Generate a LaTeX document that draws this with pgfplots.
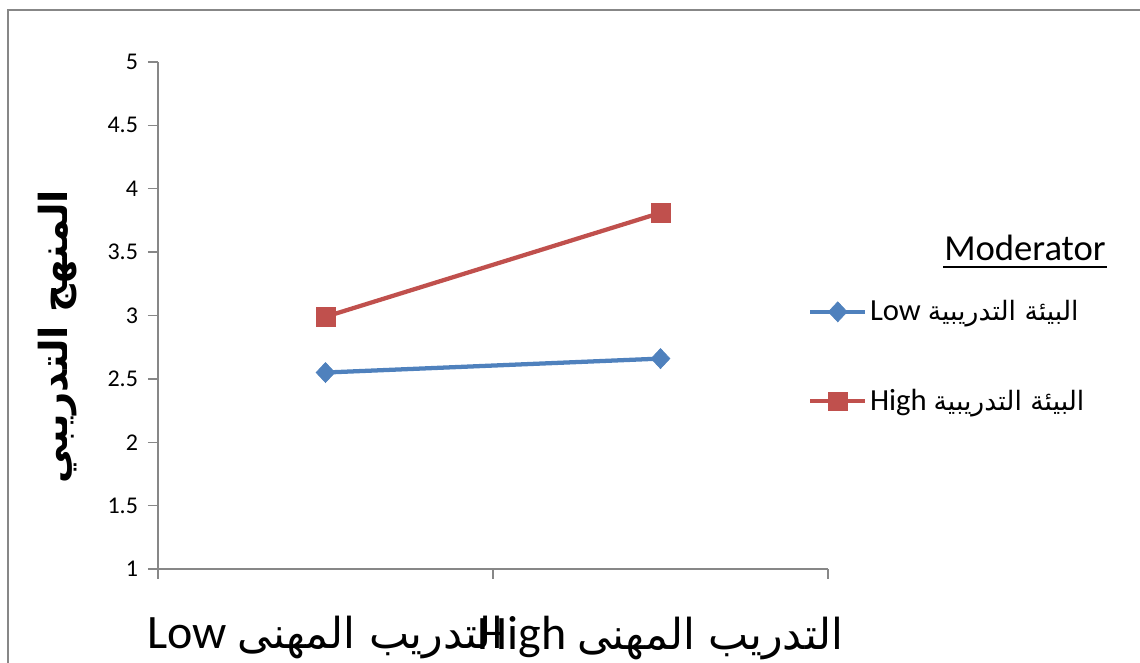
\documentclass[border=0pt]{standalone}
\usepackage{fontspec}
\setmainfont{Carlito}
\newfontfamily\arabicfont[Script=Arabic]{DejaVu Sans}
\usepackage{pgfplots}
\pgfplotsset{compat=1.18}
\TeXXeTstate=1

\definecolor{lowblue}{HTML}{4F81BD}
\definecolor{highred}{HTML}{C0504D}
\definecolor{axisgray}{HTML}{878787}

\newcommand{\catlabel}[1]{#1 {\arabicfont\fontsize{32}{32}\selectfont\beginR التدريب المهنى\endR}}
\newcommand{\modlabel}[1]{#1 {\arabicfont\fontsize{20}{20}\selectfont\beginR البيئة التدريبية\endR}}

\begin{document}
\begin{tikzpicture}[x=0.75pt,y=0.75pt]
\useasboundingbox (0,0) rectangle (1140,663);
% chart frame
\draw[axisgray, line width=1.5pt] (8,-30) -- (8,653) -- (1160,653);

\begin{axis}[
  at={(118.5pt,70.5pt)}, anchor=south west,
  scale only axis, width=502.5pt, height=380.25pt,
  xmin=-0.5, xmax=1.5, ymin=1, ymax=5,
  axis x line*=bottom, axis y line*=left,
  axis line style={axisgray, line width=1.1pt, -},
  tick align=outside, major tick length=7.5pt, minor tick length=7.5pt,
  tick style={axisgray, line width=1.1pt},
  ytick={1,1.5,...,5},
  xtick={0,1},
  minor xtick={-0.5,0.5,1.5},
  major x tick style={draw=none},
  xticklabels={{\catlabel{Low}}, {\catlabel{High}}},
  /pgf/number format/assume math mode=true,
  yticklabel style={font=\fontsize{18}{18}\selectfont, xshift=-4pt},
  xticklabel style={font=\fontsize{36}{36}\selectfont, yshift=-24pt},
  ylabel={\arabicfont\bfseries\beginR المنهج التدريبي\endR},
  ylabel style={at={(axis description cs:-0.150,0.458)}, anchor=center,
    font=\fontsize{29}{29}\selectfont},
  legend style={at={(axis description cs:0.97,0.535)}, anchor=north west,
    draw=none, fill=none, inner sep=0pt,
    font=\fontsize{23}{23}\selectfont, row sep=46pt,
    nodes={inner sep=2pt}},
  legend cell align=left,
  legend image code/.code={
    \draw[mark repeat=2, mark phase=2, #1]
      plot coordinates {(0pt,0pt) (20.6pt,0pt) (41.2pt,0pt)};},
]
\addplot[lowblue, line width=3.2pt, mark=diamond*,
  mark options={solid, line width=0.5pt, xscale=1.25}, mark size=7.5pt]
  coordinates {(0,2.55) (1,2.66)};
\addlegendentry{\modlabel{Low}}
\addplot[highred, line width=3.2pt, mark=square*,
  mark options={solid, line width=0.5pt}, mark size=7pt]
  coordinates {(0,2.99) (1,3.81)};
\addlegendentry{\modlabel{High}}
\end{axis}

% legend title
\node[font=\fontsize{27.5}{27.5}\selectfont, anchor=base] (title) at (1025,402) {Moderator};
\draw[black, line width=2pt] (943,396) -- (1107,396);
\end{tikzpicture}
\end{document}
